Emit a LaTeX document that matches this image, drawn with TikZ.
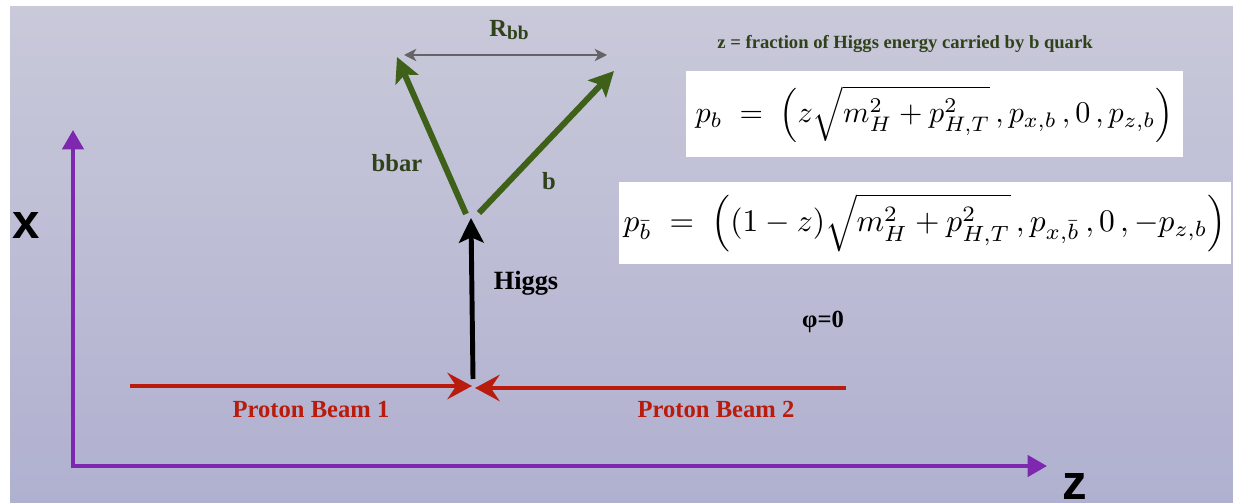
\documentclass[tikz,border=0pt]{standalone}
\usepackage{fontspec}
\setmainfont{Liberation Serif}
\newfontfamily\axisfont{Liberation Sans}
\usetikzlibrary{arrows.meta}
\definecolor{bgtop}{RGB}{201,201,218}
\definecolor{bgbot}{RGB}{176,176,208}
\definecolor{axpurple}{RGB}{125,40,175}
\definecolor{beamred}{RGB}{185,28,12}
\definecolor{qgreen}{RGB}{62,96,24}
\definecolor{lblgreen}{RGB}{48,66,26}
\definecolor{rgray}{RGB}{100,100,100}
\tikzset{
  axisline/.style={draw=axpurple, line width=2.3pt, {Triangle[length=11pt,width=12pt]}-{Triangle[length=11pt,width=12pt]}},
  axislabel/.style={font=\axisfont\bfseries\fontsize{28}{30}\selectfont, text=black, inner sep=0pt},
  beam/.style={draw=beamred, line width=2.8pt, -{Stealth[length=14pt,width=15pt,inset=5pt]}},
  beamlabel/.style={font=\bfseries\fontsize{14}{16}\selectfont, text=beamred, inner sep=0pt},
  higgsarrow/.style={draw=black, line width=2.8pt, -{Stealth[length=14pt,width=14pt,inset=3pt]}},
  quark/.style={draw=qgreen, line width=3.4pt, -{Stealth[length=14pt,width=14pt,inset=3pt]}},
  quarklabel/.style={font=\bfseries\fontsize{14}{16}\selectfont, text=lblgreen, inner sep=0pt},
  sep/.style={draw=rgray, line width=1.1pt, {Stealth[length=7pt,width=7pt,inset=2pt]}-{Stealth[length=7pt,width=7pt,inset=2pt]}},
  plainlabel/.style={font=\bfseries\fontsize{14}{16}\selectfont, text=black, inner sep=0pt},
  formbox/.style={fill=white, inner sep=0pt}
}
\begin{document}
\begin{tikzpicture}[x=0.02cm,y=-0.02cm]
\useasboundingbox (0,0) rectangle (1233,503);
\fill[white] (0,0) rectangle (1233,503);
\shade[top color=bgtop,bottom color=bgbot] (10,7) rectangle (1233,503);

% axes
\coordinate (xtip) at (73,130);
\coordinate (O) at (73,466);
\coordinate (ztip) at (1047,466);
\draw[axisline] (xtip) -- (O) -- (ztip);
\node[axislabel] (xlab) at (26,226) {x};
\node[axislabel] (zlab) at (1075,486) {z};

% beams
\coordinate (b1s) at (130,386);
\coordinate (b1e) at (472,386);
\coordinate (b2s) at (846,388);
\coordinate (b2e) at (475,388);
\draw[beam] (b1s) -- (b1e);
\draw[beam] (b2s) -- (b2e);
\node[beamlabel] (pb1) at (311,409) {Proton Beam 1};
\node[beamlabel] (pb2) at (716,409) {Proton Beam 2};

% Higgs
\coordinate (hs) at (473,379);
\coordinate (he) at (471,218);
\draw[higgsarrow] (hs) -- (he);
\node[plainlabel, font=\bfseries\fontsize{15}{17}\selectfont] (higgs) at (526,283) {Higgs};

% quarks
\coordinate (bbs) at (466,214);
\coordinate (bbe) at (397,57);
\coordinate (bs) at (479,213);
\coordinate (be) at (614,71);
\draw[quark] (bbs) -- (bbe);
\draw[quark] (bs) -- (be);
\node[quarklabel] (bbarlab) at (397,163) {bbar};
\node[quarklabel] (blab) at (549,181) {b};

% separation
\coordinate (rl) at (404,55);
\coordinate (rr) at (607,55);
\draw[sep] (rl) -- (rr);
\node[quarklabel] (rbb) at (509,30) {R\raisebox{-1.5pt}{\fontsize{11}{12}\selectfont bb}};

% definition
\node[font=\bfseries\fontsize{10.6}{12}\selectfont, text=lblgreen, inner sep=0pt] (zdef) at (905,44) {z = fraction of Higgs energy carried by b quark};

% formulas
\node[formbox, minimum width=282.8pt, minimum height=48.9pt] (f1) at (934.5,114)
  {\resizebox{272pt}{!}{$\displaystyle p_b \;=\; \left(z\sqrt{m_H^2+p_{H,T}^2}\,,p_{x,b}\,,0\,,p_{z,b}\right)$}};
\node[formbox, minimum width=348.2pt, minimum height=46.7pt] (f2) at (925,223)
  {\resizebox{343pt}{!}{$\displaystyle p_{\bar b} \;=\; \left((1-z)\sqrt{m_H^2+p_{H,T}^2}\,,p_{x,\bar b}\,,0\,,-p_{z,b}\right)$}};

\node[plainlabel] (phi) at (823,322) {φ=0};
\end{tikzpicture}
\end{document}
